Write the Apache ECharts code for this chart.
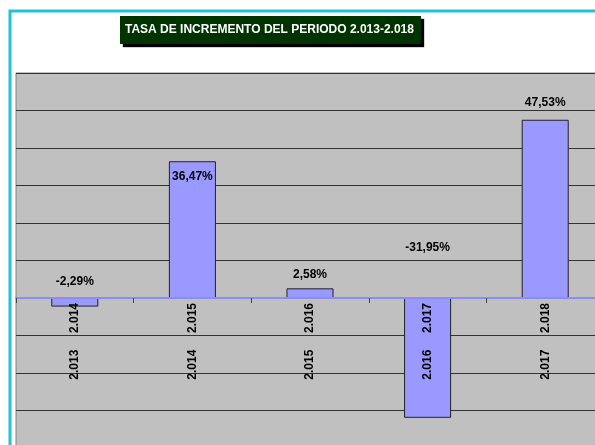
<!DOCTYPE html>
<html style="height: 100%">
<head>
  <meta charset="utf-8" />
  <title>Tasa de incremento</title>
  <script src="https://cdn.jsdelivr.net/npm/echarts@6/dist/echarts.min.js"></script>
</head>
<body style="height: 100%; margin: 0; overflow: hidden; background: #fff">
  <div id="container" style="width: 595px; height: 445px"></div>
  <script>
    // periodos (año inicio / año fin) y tasa de incremento en %
    var periodStart = ["2.013", "2.014", "2.015", "2.016", "2.017"];
    var periodEnd = ["2.014", "2.015", "2.016", "2.017", "2.018"];
    var rates = [-2.29, 36.47, 2.58, -31.95, 47.53];

    // donde colocar cada etiqueta (como en la hoja original)
    var labelPos = ["top", "insideTop", "top", "top", "top"];
    var labelGap = [10, 9, 8, 44, 11];

    var myChart = echarts.init(document.getElementById("container"), null, { renderer: "canvas" });

    var fmt = v => v.toFixed(2).replace(".", ",") + "%";

    var option = {
      animation: false,
      title: {
        text: "TASA DE INCREMENTO DEL PERIODO 2.013-2.018",
        left: 120,
        top: 16,
        padding: [8, 7, 8, 5],
        backgroundColor: "#003300",
        shadowColor: "#000",
        shadowBlur: 1,
        shadowOffsetX: 3,
        shadowOffsetY: 3,
        textStyle: {
          color: "#fff",
          fontFamily: "Liberation Sans",
          fontWeight: "bold",
          fontSize: 12,
        },
      },
      graphic: [
        {
          type: "rect",
          z: -1,
          shape: { x: 10, y: 11, width: 700, height: 500 },
          style: { fill: null, stroke: "#1ec3d6", lineWidth: 3 },
        },
      ],
      grid: {
        left: 16,
        top: 73,
        right: -9,
        bottom: -3,
        containLabel: false,
        outerBoundsMode: "none",
        show: true,
        backgroundColor: "#c0c0c0",
        borderColor: "#808080",
        borderWidth: 1,
      },
      xAxis: {
        type: "category",
        data: periodEnd,
        position: "bottom",
        z: 10,
        // eje sobre el valor 0 (el grid baja hasta -40)
        offset: -150,
        axisLine: { onZero: false, lineStyle: { color: "#8c8cf5", width: 2 } },
        axisTick: { show: true, interval: 0, length: 5, lineStyle: { color: "#444", width: 1 } },
        axisLabel: {
          rotate: 90,
          margin: 5,
          interval: 0,
          color: "#000",
          fontFamily: "Liberation Sans",
          fontWeight: "bold",
          fontSize: 12,
          formatter: (v, i) => periodStart[i] + "     " + v,
        },
      },
      yAxis: {
        type: "value",
        min: -40,
        max: 60,
        interval: 10,
        axisLabel: { show: false },
        axisLine: { show: false },
        axisTick: { show: false },
        splitLine: { lineStyle: { color: "#333", width: 1 } },
      },
      series: [
        {
          type: "bar",
          barWidth: "40%",
          itemStyle: { color: "#9999ff", borderColor: "#222", borderWidth: 1 },
          label: {
            show: true,
            color: "#000",
            fontFamily: "Liberation Sans",
            fontWeight: "bold",
            fontSize: 12,
            formatter: p => fmt(p.value),
          },
          data: rates.map((v, i) => ({
            value: v,
            label: { position: labelPos[i], distance: labelGap[i] },
          })),
        },
      ],
    };
    myChart.setOption(option);
  </script>
</body>
</html>
